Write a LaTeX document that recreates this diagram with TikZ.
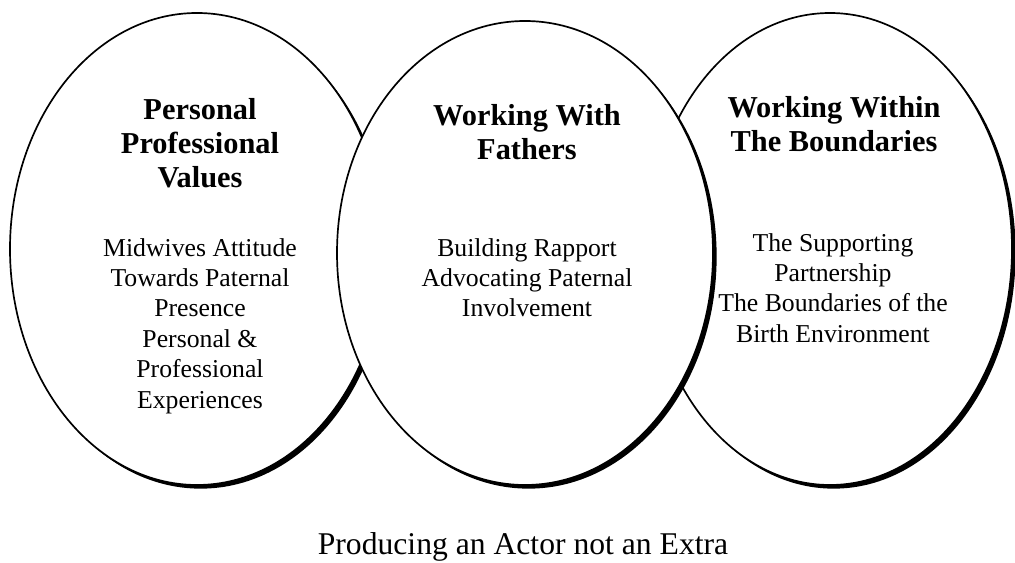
\documentclass[tikz,border=0pt]{standalone}
\usepackage{fontspec}
\setmainfont{Liberation Serif}
\usetikzlibrary{shadows}

\tikzset{
  ring/.style={draw=black, line width=1.2pt, fill=white,
    drop shadow={shadow xshift=2.6pt, shadow yshift=-2.6pt, fill=black, opacity=1}},
  head/.style={font=\fontsize{21.6}{24.2}\selectfont\bfseries, align=center, anchor=north, inner sep=0pt},
  body/.style={font=\fontsize{18.3}{21.6}\selectfont, align=center, anchor=north, inner sep=0pt}
}

\begin{document}
\begin{tikzpicture}[x=0.025cm, y=-0.025cm]
\useasboundingbox (0,0) rectangle (1015,563);
\draw[ring] (197,249) ellipse [x radius=187, y radius=236];
\draw[ring] (830,249) ellipse [x radius=182, y radius=236];
\draw[ring] (525,253) ellipse [x radius=188, y radius=232];
\node[head] (values) at (200,98) {Personal\\Professional\\Values};
\node[body] (valuesbody) at (200,238) {Midwives Attitude\\Towards Paternal\\Presence\\Personal \&\\Professional\\Experiences};
\node[head] (fathers) at (527,104) {Working With\\Fathers};
\node[body] (fathersbody) at (527,238) {Building Rapport\\Advocating Paternal\\Involvement};
\node[head] (bounds) at (834,96) {Working Within\\The Boundaries};
\node[body] (boundsbody) at (833,233) {The Supporting\\Partnership\\The Boundaries of the\\Birth Environment};
\node[font=\fontsize{22.5}{27}\selectfont, anchor=base, inner sep=0pt] (extra) at (523,555) {Producing an Actor not an Extra};
\end{tikzpicture}
\end{document}
